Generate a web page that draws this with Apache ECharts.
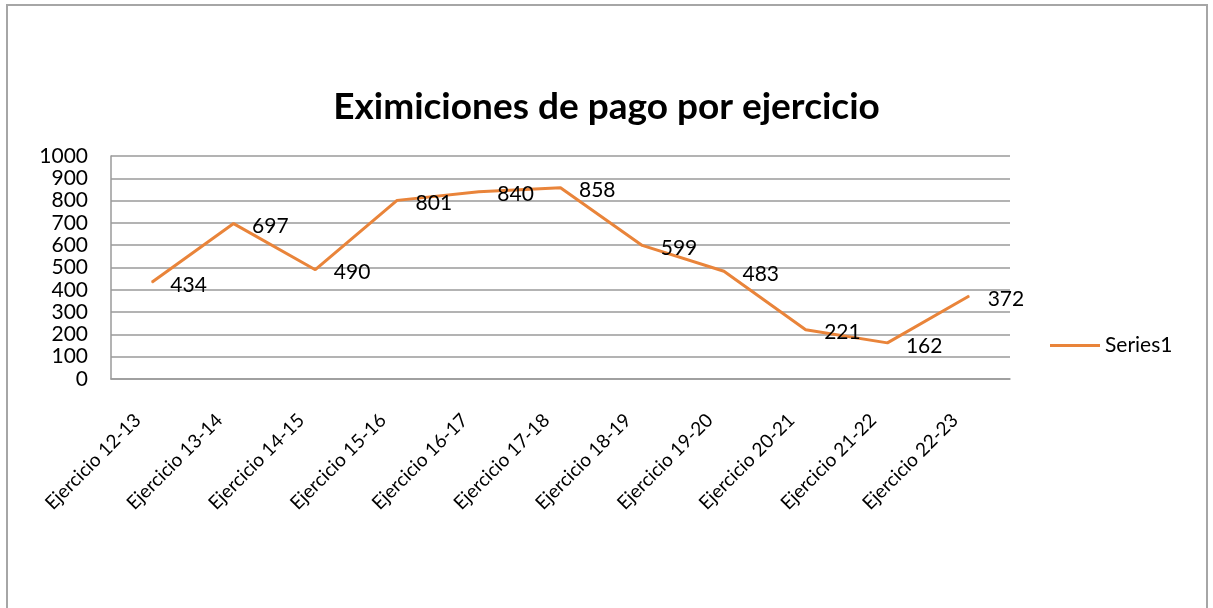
<!DOCTYPE html>
<html>
<head>
<meta charset="utf-8">
<script src="https://cdn.jsdelivr.net/npm/echarts@6/dist/echarts.min.js"></script>
<style>
  html, body { margin: 0; padding: 0; background: #fff; }
  #chart { width: 1213px; height: 608px; }
</style>
</head>
<body>
<div id="chart"></div>
<script>
// datos del gráfico
const categorias = ['Ejercicio 12-13', 'Ejercicio 13-14', 'Ejercicio 14-15', 'Ejercicio 15-16',
    'Ejercicio 16-17', 'Ejercicio 17-18', 'Ejercicio 18-19', 'Ejercicio 19-20',
    'Ejercicio 20-21', 'Ejercicio 21-22', 'Ejercicio 22-23'];
const series1 = [434, 697, 490, 801, 840, 858, 599, 483, 221, 162, 372];
const nombreSerie = 'Series1';

const fuente = 'Lato, "Open Sans", sans-serif';

const myChart = echarts.init(document.getElementById('chart'));

const option = {
    backgroundColor: '#fff',
    textStyle: { fontFamily: fuente, color: '#000' },
    title: {
        text: 'Eximiciones de pago por ejercicio',
        left: 'center',
        top: 84,
        textStyle: { fontFamily: fuente, fontSize: 37, fontWeight: 'bold', color: '#000' }
    },
    graphic: [
        {
            type: 'rect',
            shape: { x: 7, y: 5, width: 1200, height: 640 },
            style: { fill: 'none', stroke: '#a6a6a6', lineWidth: 2 },
            silent: true
        }
    ],
    legend: {
        data: [nombreSerie],
        orient: 'vertical',
        left: 1045,
        top: 330,
        itemWidth: 50,
        itemHeight: 3,
        itemGap: 6,
        icon: 'rect',
        textStyle: { fontFamily: fuente, fontSize: 21, color: '#000' }
    },
    grid: {
        left: 111,
        right: 203,
        top: 156,
        bottom: 229
    },
    xAxis: {
        type: 'category',
        data: categorias,
        boundaryGap: true,
        axisLine: { lineStyle: { color: '#9a9a9a', width: 1.5 } },
        axisTick: { show: false },
        axisLabel: {
            rotate: 45,
            margin: 24,
            padding: [0, 20, 0, 0],
            fontFamily: fuente,
            fontSize: 19,
            color: '#000'
        }
    },
    yAxis: {
        type: 'value',
        min: 0,
        max: 1000,
        interval: 100,
        axisLine: { show: true, lineStyle: { color: '#9a9a9a', width: 1.5 } },
        axisTick: { show: false },
        splitLine: { lineStyle: { color: '#9a9a9a', width: 1.5 } },
        axisLabel: {
            margin: 23,
            formatter: function (v) { return String(v); },
            fontFamily: fuente,
            fontSize: 21,
            color: '#000'
        }
    },
    series: [
        {
            name: nombreSerie,
            type: 'line',
            data: series1,
            symbol: 'circle',
            symbolSize: 1,
            itemStyle: { color: '#e9843a' },
            lineStyle: { color: '#e9843a', width: 3 },
            label: {
                show: true,
                position: 'right',
                distance: 18,
                offset: [0, 3],
                fontFamily: fuente,
                fontSize: 21,
                color: '#000'
            },
            emphasis: { disabled: true }
        }
    ]
};

myChart.setOption(option);
</script>
</body>
</html>
